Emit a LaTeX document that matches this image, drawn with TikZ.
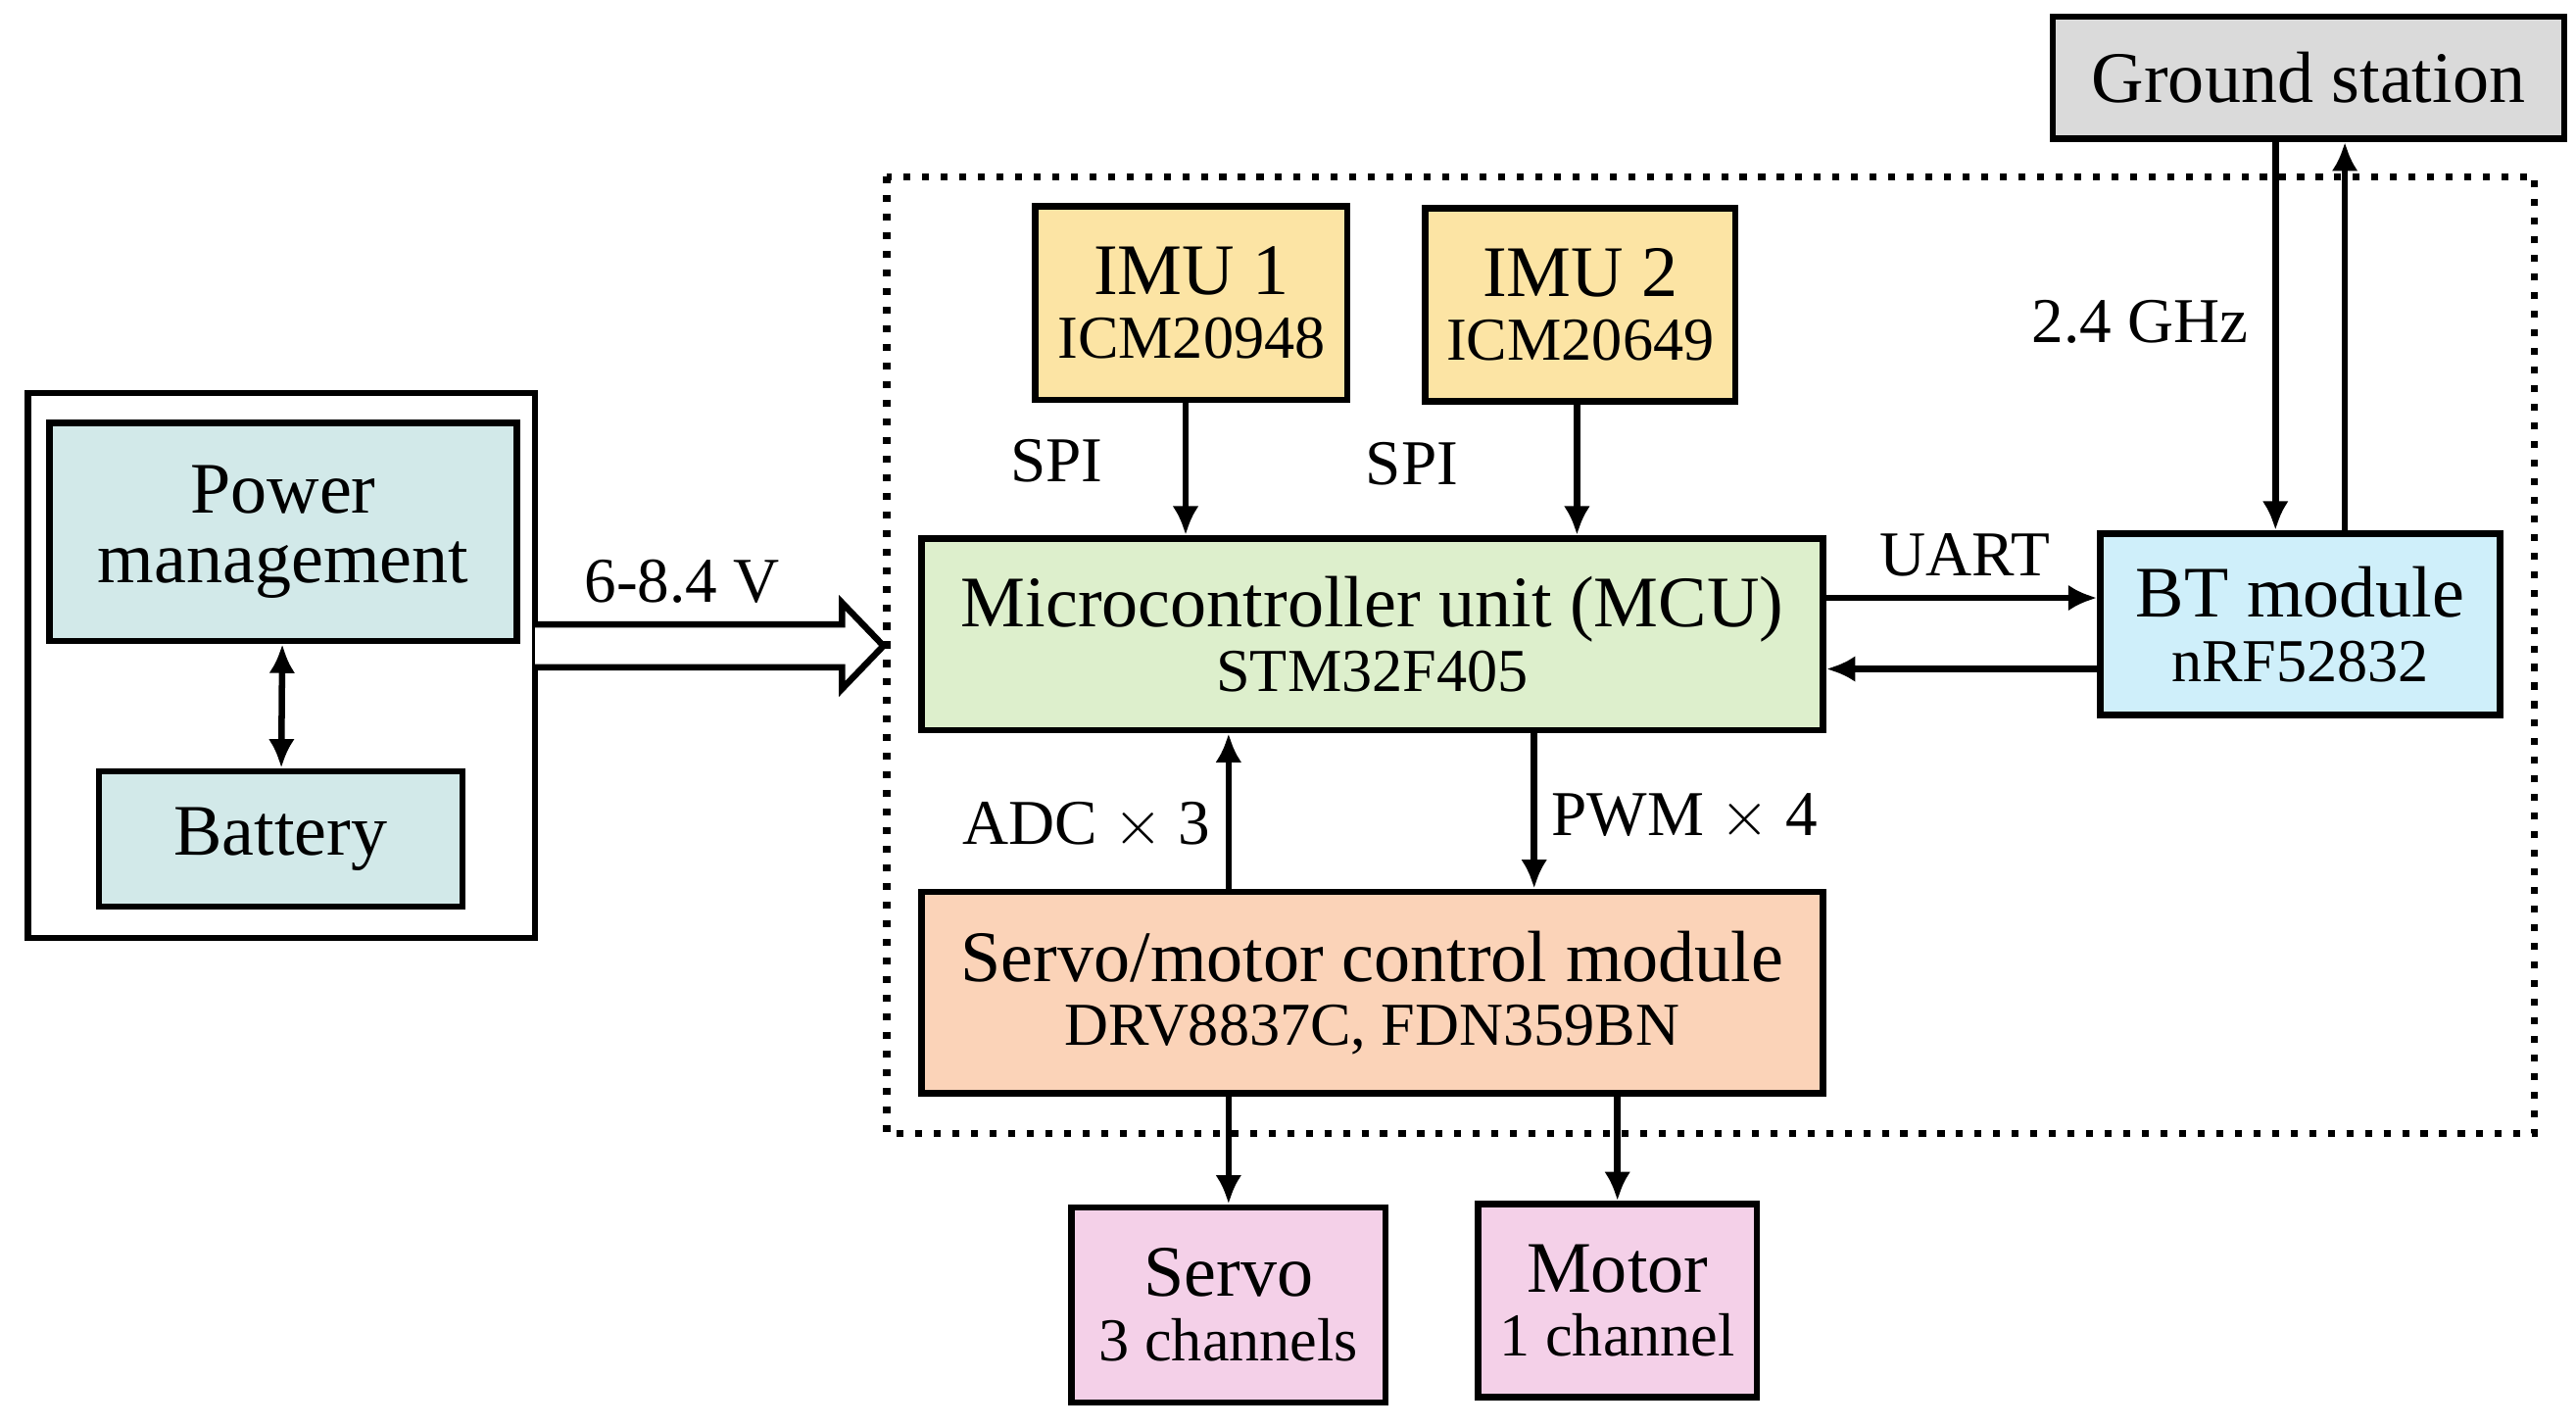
\documentclass[tikz,border=0pt]{standalone}
\usepackage{fontspec}
\setmainfont{Liberation Serif}
\usetikzlibrary{arrows.meta}
\definecolor{pmfill}{HTML}{D2E9E9}
\definecolor{imufill}{HTML}{FCE4A4}
\definecolor{mcufill}{HTML}{DDEFCC}
\definecolor{btfill}{HTML}{CFEFFA}
\definecolor{gsfill}{HTML}{DADADA}
\definecolor{smfill}{HTML}{FBD3B8}
\definecolor{outfill}{HTML}{F4D0E8}
\tikzset{
  blk/.style 2 args={draw, line width=1.1pt, anchor=center, align=center, inner sep=0pt,
    minimum width=#1*0.01cm, minimum height=#2*0.01cm},
  ttl/.style={font=\fontsize{12.5}{14}\selectfont},
  lbl/.style={font=\fontsize{11}{13}\selectfont},
  conn/.style={-{Latex[length=5pt,width=4.5pt]}, line width=1.1pt}
}
\newcommand{\twoline}[2]{{\fontsize{12.5}{14}\selectfont #1}\\[-1pt]{\fontsize{10.5}{12}\selectfont #2}}
\begin{document}
\begin{tikzpicture}[x=0.01cm,y=-0.01cm]
  \useasboundingbox (0,0) rectangle (1560,864);

  % left power box
  \node[blk={307}{330}] (pwrbox) at (170.5,403) {};
  \node[blk={283}{132}, fill=pmfill, ttl] (pm) at (171.5,322) {Power\\[-2pt]management};
  \node[blk={220}{82}, fill=pmfill, ttl] (bat) at (170,508) {Battery};
  \draw[{Latex[length=5pt,width=4.5pt]}-{Latex[length=5pt,width=4.5pt]}, line width=1.1pt] (pm) -- (bat);

  % hollow supply arrow
  \draw[line width=1.1pt, fill=white] (324,378) -- (510,378) -- (510,365) -- (535,391)
    -- (510,417) -- (510,404) -- (324,404);
  \node[lbl] (volt) at (413,352) {6-8.4 V};

  % dotted board outline
  \draw[dotted, line width=1.2pt] (537,107) rectangle (1535,686);

  % sensors and controller
  \node[blk={189}{117}, fill=imufill] (imu1) at (721.5,183.5) {\twoline{IMU 1}{ICM20948}};
  \node[blk={188}{117}, fill=imufill] (imu2) at (957,184.5) {\twoline{IMU 2}{ICM20649}};
  \node[blk={546}{116}, fill=mcufill] (mcu) at (831,384) {\twoline{Microcontroller unit (MCU)}{STM32F405}};
  \node[blk={242}{110}, fill=btfill] (bt) at (1393,378) {\twoline{BT module}{nRF52832}};
  \node[blk={310}{74}, fill=gsfill, ttl] (gs) at (1398,47) {Ground station};
  \node[blk={546}{122}, fill=smfill] (smc) at (831,601) {\twoline{Servo/motor control module}{DRV8837C, FDN359BN}};
  \node[blk={190}{118}, fill=outfill] (servo) at (744,790) {\twoline{Servo}{3 channels}};
  \node[blk={169}{117}, fill=outfill] (motor) at (979.5,787.5) {\twoline{Motor}{1 channel}};

  % connectors
  \draw[conn] ([xshift=-0.035cm]imu1.south) -- ([xshift=-0.035cm]imu1.south |- mcu.north);
  \draw[conn] ([xshift=-0.02cm]imu2.south) -- ([xshift=-0.02cm]imu2.south |- mcu.north);
  \node[lbl] (spi1) at (640,279) {SPI};
  \node[lbl] (spi2) at (855,281) {SPI};

  \draw[conn] ([yshift=0.16cm]mcu.east |- bt.west) -- ([yshift=0.16cm]bt.west);
  \draw[conn] ([yshift=-0.27cm]bt.west) -- ([yshift=-0.27cm]bt.west -| mcu.east);
  \node[lbl] (uart) at (1190,336) {UART};

  \draw[conn] ([xshift=-0.2cm]gs.south) -- ([xshift=-0.2cm]gs.south |- bt.north);
  \draw[conn] ([xshift=0.22cm]gs.south |- bt.north) -- ([xshift=0.22cm]gs.south);
  \node[lbl] (ghz) at (1296,195) {2.4 GHz};

  \draw[conn] (smc.north -| servo.north) -- (mcu.south -| servo.north);
  \draw[conn] ([xshift=0.98cm]mcu.south) -- ([xshift=0.98cm]smc.north);
  \node[lbl] (adc) at (658,500) {ADC $\times$ 3};
  \node[lbl] (pwm) at (1020,495) {PWM $\times$ 4};

  \draw[conn] (smc.south -| servo.north) -- (servo.north);
  \draw[conn] (smc.south -| motor.north) -- (motor.north);
\end{tikzpicture}
\end{document}
